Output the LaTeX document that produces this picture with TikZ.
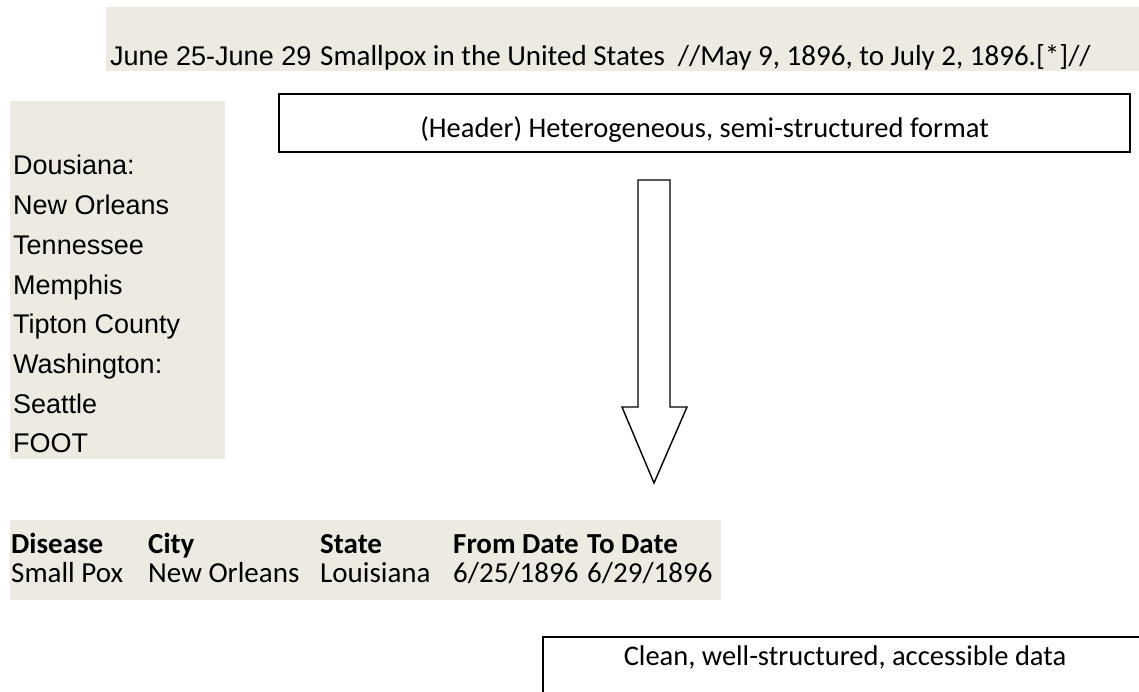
\documentclass[tikz,border=0pt]{standalone}
\usepackage{fontspec}
\newfontfamily\arialf{Liberation Sans}
\newfontfamily\calf{Carlito}
\definecolor{panel}{HTML}{ECEAE1}
\tikzset{
  ar/.style={font=\arialf\fontsize{27}{32}\selectfont, anchor=base west, inner sep=0pt},
  cb/.style={font=\calf\fontsize{29}{34}\selectfont, anchor=base west, inner sep=0pt},
  cbb/.style={font=\calf\bfseries\fontsize{29}{34}\selectfont, anchor=base west, inner sep=0pt},
  caption/.style={font=\calf\fontsize{28.5}{34}\selectfont, anchor=base, inner sep=0pt},
  framebox/.style={draw=black, line width=1.8pt, fill=white},
  blockarrow/.style={draw=black, line width=1.4pt, fill=white, line join=miter},
}
\begin{document}
\begin{tikzpicture}[x=1pt,y=-1pt]
\useasboundingbox (0,0) rectangle (1139,692);
\clip (0,0) rectangle (1139,692);

% raw record header line
\fill[panel] (106,7) rectangle (1139,71);
\node[ar] (date) at (110,66) {June 25-June 29};
\node[cb] (title) at (320,66) {Smallpox in the United States~~//May 9, 1896, to July 2, 1896.[*]//};

% raw record body
\fill[panel] (10,101) rectangle (225,459);
\foreach \txt [count=\i from 0] in {Dousiana:, New Orleans, Tennessee, Memphis, Tipton County, Washington:, Seattle, FOOT}
  \node[ar] (raw\i) at (13,175+39.7*\i) {\txt};

% header caption box
\draw[framebox] (279,94) rectangle (1130,152);
\node[caption] (hdr) at (704.5,137.5) {(Header) Heterogeneous, semi-structured format};

% transformation arrow
\draw[blockarrow] (638,180) -- (670,180) -- (670,407) -- (687,407) -- (654,483)
  -- (622,407) -- (638,407) -- cycle;

% structured table
\fill[panel] (10,520) rectangle (721,600);
\node[cbb] (h1) at (11,553) {Disease};
\node[cbb] (h2) at (148,553) {City};
\node[cbb] (h3) at (320,553) {State};
\node[cbb] (h4) at (453,553) {From Date};
\node[cbb] (h5) at (587,553) {To Date};
\node[cb] (d1) at (11,582) {Small Pox};
\node[cb] (d2) at (148,582) {New Orleans};
\node[cb] (d3) at (320,582) {Louisiana};
\node[cb] (d4) at (453,582) {6/25/1896};
\node[cb] (d5) at (587,582) {6/29/1896};

% result caption box
\draw[framebox] (543,637) rectangle (1150,710);
\node[caption] (res) at (845,665) {Clean, well-structured, accessible data};
\end{tikzpicture}
\end{document}
